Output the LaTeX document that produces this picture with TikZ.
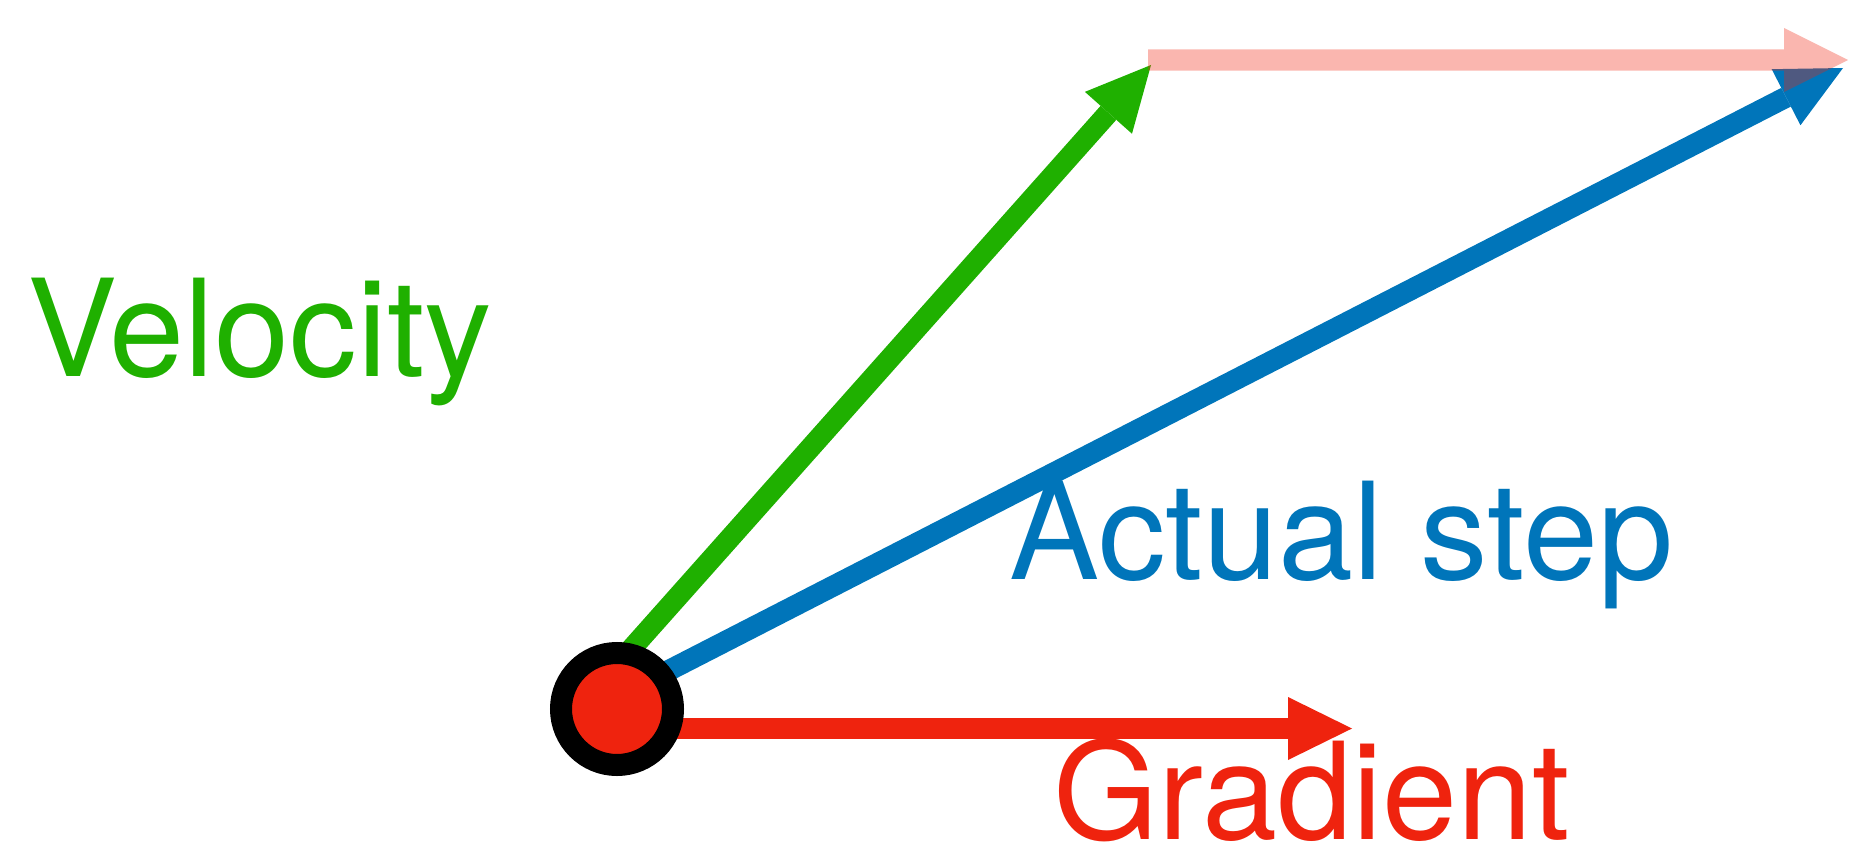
\documentclass[tikz,border=0pt]{standalone}
\usepackage{fontspec}
\setmainfont{TeX Gyre Heros}
\usetikzlibrary{arrows.meta,calc}
\definecolor{vgreen}{RGB}{31,176,0}
\definecolor{sblue}{RGB}{0,117,186}
\definecolor{gred}{RGB}{239,35,14}
\begin{document}
\begin{tikzpicture}[x=1pt,y=-1pt,
  vec/.style={line width=21pt, -{Triangle[length=64pt,width=63pt,line width=0pt]}},
  lbl/.style={anchor=base west, inner sep=0pt, font=\fontsize{135pt}{160pt}\selectfont}]
\useasboundingbox (0,0) rectangle (1870,851);
\coordinate (gs) at (617,665);
\coordinate (gt) at (1151,65);
\coordinate (bs) at (617,697);
\coordinate (bt) at (1843,68);
\coordinate (rs) at (617,728.5);
\coordinate (rt) at (1352,728.5);
\coordinate (ps) at (1148,60);
\coordinate (pt) at (1848,60);
\draw[vec, vgreen] (gs) -- (gt);
\draw[vec, sblue] (bs) -- (bt);
\draw[vec, gred] (rs) -- (rt);
\node[circle, draw=black, line width=22pt, fill=gred, minimum size=112pt, inner sep=0pt] (p) at (617,709) {};
\fill[gred, fill opacity=0.333] (ps) ++(0,-10.5) -| ($(pt)+(-64,-32)$) -- (pt) -- ($(pt)+(-64,32)$) |- ($(ps)+(0,10.5)$) -- cycle;
\node[lbl, vgreen] (vl) at (27,376) {Velocity};
\node[lbl, sblue] (al) at (1009,579) {Actual step};
\node[lbl, gred] (gl) at (1053,839) {Gradient};
\end{tikzpicture}
\end{document}
